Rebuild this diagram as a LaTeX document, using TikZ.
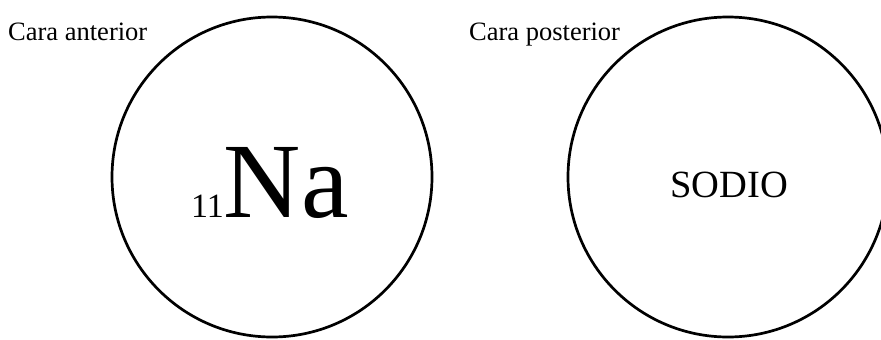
\documentclass[tikz,border=0pt]{standalone}
\usepackage{fontspec}
\setmainfont{Liberation Serif}
\usepackage{tikz}
\usetikzlibrary{positioning}
\tikzset{
  face/.style={circle, draw=black, line width=2.7pt, minimum size=320pt, inner sep=0pt},
  caption/.style={anchor=base west, inner sep=0pt, font=\fontsize{26.5}{30}\selectfont},
  symbol/.style={anchor=base west, inner sep=0pt},
  elemname/.style={anchor=base, inner sep=0pt, font=\fontsize{38.5}{44}\selectfont}
}

\begin{document}
\begin{tikzpicture}[x=1pt, y=-1pt]
        \useasboundingbox (0,0) rectangle (881,340);
        \node[face] (front) at (272,177) {};
        \node[face] (back) at (728,177) {};
        \node[caption] (frontlbl) at (8,40) {Cara anterior};
        \node[caption] (backlbl) at (469,40) {Cara posterior};
        \node[symbol] (na) at (191,217)
          {{\fontsize{34}{34}\selectfont 11}{\fontsize{107}{112}\selectfont Na}};
        \node[elemname] (sodio) at (729,197) {SODIO};
      \end{tikzpicture}
\end{document}
